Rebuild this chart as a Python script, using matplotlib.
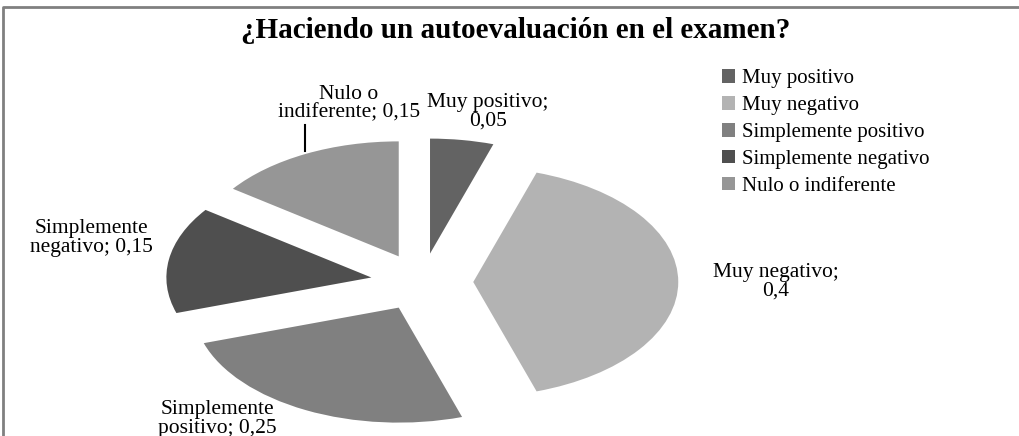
import matplotlib
matplotlib.use("Agg")
import matplotlib.pyplot as plt
from matplotlib.patches import Patch
from matplotlib.lines import Line2D

W, H = 1019, 436

categories = ["Muy positivo", "Muy negativo", "Simplemente positivo",
              "Simplemente negativo", "Nulo o indiferente"]
values = [0.05, 0.4, 0.25, 0.15, 0.15]
colors = ["#636363", "#b3b3b3", "#808080", "#4f4f4f", "#969696"]
label_texts = ["Muy positivo;\n{}", "Muy negativo;\n{}", "Simplemente\npositivo; {}",
               "Simplemente\nnegativo; {}", "Nulo o\nindiferente; {}"]
# label centres in pixels
label_pos = [(488, 112), (776, 282), (217, 419), (91, 238), (349, 104)]

plt.rcParams["font.family"] = ["Liberation Serif", "DejaVu Serif"]

fig = plt.figure(figsize=(W / 100, H / 100), dpi=100)
ax = fig.add_axes([0, 0, 1, 1])

# pie centre (px) and radii (px) -> the picture is stretched horizontally
cx, cy, rx, ry = 422, 282, 205, 115

ax.pie(values, explode=[0.25] * len(values), colors=colors, startangle=90,
       counterclock=False, radius=1, wedgeprops=dict(linewidth=0))
ax.set_aspect("auto")
ax.set_xlim(-cx / rx, (W - cx) / rx)
ax.set_ylim((cy - H) / ry, cy / ry)
ax.axis("off")


def fx(px):
    return px / W


def fy(py):
    return 1 - py / H


for txt, v, (px, py) in zip(label_texts, values, label_pos):
    s = txt.format(str(v).replace(".", ","))
    fig.text(fx(px), fy(py), s, ha="center", va="center", fontsize=15.5,
             linespacing=0.95)

# leader line for "Nulo o indiferente"
fig.add_artist(Line2D([fx(305), fx(305)], [fy(125), fy(151)], color="black",
                      lw=1.5, transform=fig.transFigure))

fig.text(fx(516), fy(31), "¿Haciendo un autoevaluación en el examen?",
         ha="center", va="center", fontsize=21, fontweight="bold")

handles = [Patch(facecolor=c, edgecolor="none") for c in colors]
fig.legend(handles, categories, loc="upper left",
           bbox_to_anchor=(fx(712), fy(59)), frameon=False, fontsize=15,
           handlelength=0.6, handleheight=0.6, handletextpad=0.35,
           labelspacing=0.38, borderpad=0)

# chart border (left and top visible)
fig.add_artist(Line2D([fx(3), fx(3), fx(W + 5)], [fy(H + 5), fy(7), fy(7)],
                      color="#808080", lw=2, transform=fig.transFigure))

fig.savefig("out.png", dpi=100)
